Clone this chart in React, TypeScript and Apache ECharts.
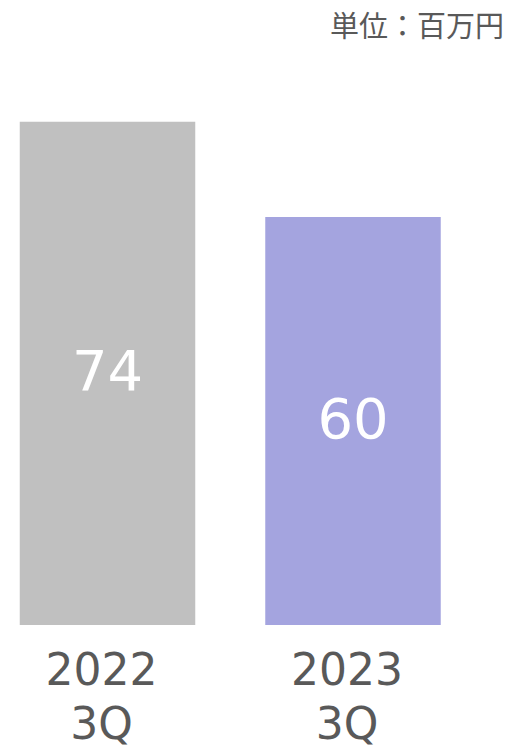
import React, { useEffect, useRef } from "react";
import * as echarts from "echarts";

const categories = ["2022\n3Q", "2023\n3Q"];
const values = [74, 60];
const barColors = ["#c0c0c0", "#a4a4df"];
const unitLabel = "単位：百万円";

export default function App() {
  const ref = useRef<HTMLDivElement>(null);
  useEffect(() => {
    const chart = echarts.init(ref.current!, null, { renderer: "svg" });
    chart.setOption({
      animation: false,
      backgroundColor: "#ffffff",
      title: {
        text: unitLabel,
        right: -2,
        top: 4,
        textStyle: {
          fontFamily: "'Noto Sans CJK JP', sans-serif",
          fontSize: 29,
          fontWeight: "normal",
          color: "#595959",
        },
      },
      grid: { left: 107.5, width: 245.5, top: 81, bottom: 122, containLabel: false },
      xAxis: {
        type: "category",
        data: categories,
        boundaryGap: false,
        axisLine: { show: false },
        axisTick: { show: false },
        splitLine: { show: false },
        axisLabel: {
          margin: 17,
          fontFamily: "'DejaVu Sans', sans-serif",
          fontSize: 44,
          lineHeight: 54,
          color: "#595959",
          padding: [0, 12, 0, 0],
        },
      },
      yAxis: {
        type: "value",
        min: 0,
        max: 80,
        show: false,
        splitLine: { show: false },
      },
      series: [
        {
          type: "bar",
          barWidth: 175.5,
          clip: false,
          data: values.map((v, i) => ({ value: v, itemStyle: { color: barColors[i] } })),
          label: {
            show: true,
            position: "inside",
            offset: [0, -3],
            fontFamily: "'DejaVu Sans', sans-serif",
            fontSize: 56,
            color: "#ffffff",
          },
        },
      ],
    });
    return () => chart.dispose();
  }, []);
  return <div ref={ref} style={{ width: 507, height: 750, position: "absolute", left: 0, top: 0 }} />;
}
